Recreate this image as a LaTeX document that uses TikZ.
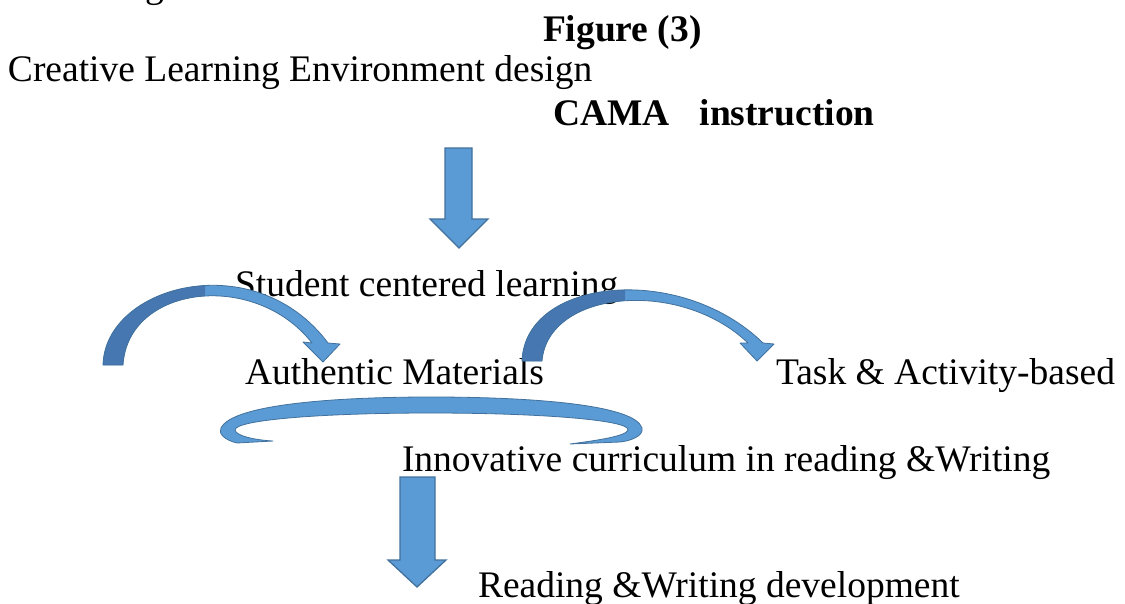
\documentclass[tikz,border=0pt]{standalone}
\usepackage{fontspec}
\setmainfont{Liberation Serif}
\definecolor{arrfill}{HTML}{5B9BD5}
\definecolor{arrline}{HTML}{41719C}
\definecolor{arrdark}{HTML}{4677B0}
\begin{document}
\begin{tikzpicture}[x=1pt,y=-1pt,
  lbl/.style={inner sep=0pt,outer sep=0pt,anchor=base west,font=\fontsize{37.5}{44}\selectfont},
  blbl/.style={lbl,font=\fontsize{37.5}{44}\selectfont\bfseries},
  blockarrow/.style={fill=arrfill,draw=arrline,line width=1.3pt,line join=miter},
  bandarrow/.style={fill=arrfill,draw=arrline,line width=0.8pt,line join=round}]
\clip (0,0) rectangle (1125,603);
\fill[white] (0,0) rectangle (1125,603);

% texts
\node[lbl] (cut) at (145,-3) {g};
\node[blbl] (fig) at (543,41) {Figure (3)};
\node[lbl] (cle) at (8,81) {Creative Learning Environment design};
\node[blbl] (cama) at (553,125) {CAMA\hspace{0.55em} instruction};
\node[lbl] (scl) at (235,296) {Student centered learning};
\node[lbl] (am) at (245,384) {Authentic Materials};
\node[lbl] (tab) at (776,384) {Task \& Activity-based};
\node[lbl] (icr) at (402,471) {Innovative curriculum in reading \&Writing};
\node[lbl] (rwd) at (478,597) {Reading \&Writing development};

% straight down arrow 1
\draw[blockarrow] (445,148) -- (472,148) -- (472,219) -- (488,219) -- (459,248)
  -- (430,219) -- (445,219) -- cycle;
% straight down arrow 2
\draw[blockarrow] (400,477) -- (435,477) -- (435,560) -- (446,560) -- (417,587)
  -- (388,560) -- (400,560) -- cycle;

% curved arrow 1
\def\curveA{(103,365) .. controls (105,285) and (255,245) .. (328,343)
  -- (340,344) -- (323,362) -- (303,342) -- (312,343)
  .. controls (255,270) and (128,285) .. (123,365) -- cycle}
\fill[arrfill] \curveA;
\begin{scope}
  \clip (0,250) rectangle (205,380);
  \fill[arrdark] \curveA;
\end{scope}
\draw[arrline,line width=0.8pt,line join=round] \curveA;

% curved arrow 2
\def\curveB{(522,361) .. controls (525,278) and (680,262) .. (763,343)
  -- (774,344) -- (757,361) -- (740,343) -- (748,343)
  .. controls (680,278) and (548,290) .. (542,361) -- cycle}
\fill[arrfill] \curveB;
\begin{scope}
  \clip (500,250) rectangle (625,380);
  \fill[arrdark] \curveB;
\end{scope}
\draw[arrline,line width=0.8pt,line join=round] \curveB;

% circular arrow
\draw[bandarrow] (273,441) -- (237,443) .. controls (224,440) and (218,433) .. (221,428)
  .. controls (232,405) and (330,397) .. (431,397)
  .. controls (535,397) and (635,405) .. (642,428)
  .. controls (644,436) and (630,441) .. (620,442) -- (570,444)
  .. controls (600,440) and (626,436) .. (628,430)
  .. controls (630,420) and (540,413) .. (431,413)
  .. controls (320,413) and (235,420) .. (235,430)
  .. controls (236,436) and (255,440) .. (273,441) -- cycle;
\end{tikzpicture}
\end{document}
